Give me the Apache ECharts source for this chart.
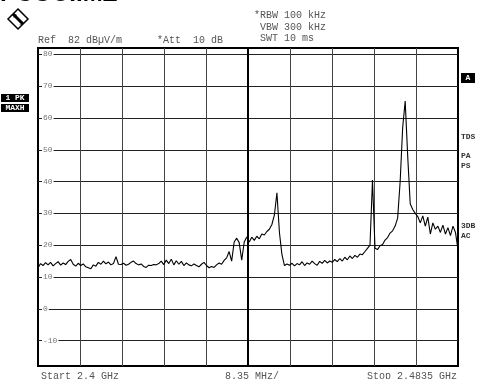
<!DOCTYPE html>
<html>
<head>
<meta charset="UTF-8">
<script src="https://cdn.jsdelivr.net/npm/echarts@6/dist/echarts.min.js"></script>
<style>
  body { margin: 0; padding: 0; background: #ffffff; }
  #chart { width: 480px; height: 379px; }
</style>
</head>
<body>
<div id="chart"></div>
<script>
// sweep settings (MHz, dBuV/m)
const startMHz = 2400;
const stopMHz = 2483.5;
const stepMHz = 0.5;
const refLevel = 82;
const bottomLevel = -18;

// graticule
const levelTicks = [80, 70, 60, 50, 40, 30, 20, 10, 0, -10];
const freqGrid = [2408.35, 2416.7, 2425.05, 2433.4, 2441.75, 2450.1, 2458.45, 2466.8, 2475.15];
const centreMHz = 2441.75;

// max-hold trace, one value per 0.5 MHz from 2400 MHz
const levels = [
  12.8, 14.2, 13.6, 14.5, 13.8, 14.6, 13.5, 14.2, 14.8, 13.7,
  14.4, 13.9, 14.9, 15.5, 14.0, 13.4, 14.3, 13.6, 14.1, 13.2,
  12.9, 12.6, 13.8, 13.4, 14.6, 14.0, 15.0, 14.1, 14.7, 13.8,
  14.2, 16.4, 14.0, 13.9, 14.3, 13.7, 14.0, 14.6, 15.0, 14.2,
  13.8, 14.1, 13.3, 13.0, 13.7, 13.6, 13.9, 13.8, 14.2, 15.0,
  13.9, 15.3, 14.2, 15.6, 13.8, 15.1, 14.0, 14.9, 13.6, 14.4,
  13.8, 13.5, 14.1, 13.6, 13.2, 14.0, 14.6, 13.6, 12.9, 13.3,
  13.0, 13.8, 14.4, 14.0, 15.2, 16.0, 18.0, 15.0, 21.0, 22.2,
  20.8, 15.3, 21.0, 22.6, 21.0, 22.5, 21.5, 22.8, 22.0, 23.5,
  23.2, 24.3, 25.0, 26.5, 29.5, 36.5, 24.0, 17.0, 13.6, 14.1,
  13.7, 14.3, 13.5, 14.2, 13.8, 14.8, 13.6, 14.4, 14.0, 15.0,
  14.2, 13.7, 14.9, 14.3, 15.2, 14.4, 15.0, 14.6, 15.5, 14.8,
  15.8, 15.0, 16.2, 15.4, 16.6, 15.8, 16.8, 16.2, 17.2, 17.0,
  18.0, 19.0, 20.0, 40.5, 19.0, 18.6, 19.8, 20.2, 21.6, 22.4,
  23.8, 24.5, 26.0, 28.5, 40.0, 57.0, 65.3, 48.0, 33.0, 31.2,
  30.0, 29.0, 27.0, 29.2, 26.0, 28.8, 23.5, 27.0, 25.0, 26.0,
  24.0, 26.3, 23.5, 25.5, 23.0, 26.0, 24.0, 18.5
];

const trace = levels.map((v, i) => [startMHz + i * stepMHz, v]);

const mono = '"Liberation Mono", "DejaVu Sans Mono", monospace';

function txt(x, y, text, opts) {
  opts = opts || {};
  return {
    type: 'text', x: x, y: y, silent: true, z: 20,
    style: {
      text: text,
      font: opts.font || ('10px ' + mono),
      fill: opts.fill || '#555',
      align: opts.align || 'left',
      verticalAlign: 'middle'
    }
  };
}

function tag(x, y, w, h, text) {
  return {
    type: 'group', x: x, y: y, z: 20, silent: true,
    children: [
      { type: 'rect', shape: { x: 0, y: 0, width: w, height: h }, style: { fill: '#000' } },
      { type: 'text', x: w / 2, y: h / 2, style: { text: text, font: 'bold 8px ' + mono, fill: '#fff', align: 'center', verticalAlign: 'middle' } }
    ]
  };
}

const chart = echarts.init(document.getElementById('chart'));

const option = {
  animation: false,
  backgroundColor: '#ffffff',
  grid: {
    left: 38, top: 48, width: 420, height: 318,
    show: true, borderColor: '#000', borderWidth: 2, backgroundColor: 'transparent'
  },
  xAxis: {
    type: 'value', min: startMHz, max: stopMHz,
    axisLine: { show: false }, axisTick: { show: false },
    axisLabel: { show: false }, splitLine: { show: false }
  },
  yAxis: {
    type: 'value', min: bottomLevel, max: refLevel, z: 10,
    axisLine: { show: false }, axisTick: { show: false },
    splitLine: { show: false },
    axisLabel: {
      inside: true, customValues: levelTicks, margin: 4,
      fontSize: 8, fontFamily: mono, color: '#777',
      backgroundColor: '#fff', padding: [0, 1]
    }
  },
  series: [{
    type: 'line',
    data: trace,
    showSymbol: false,
    lineStyle: { color: '#000', width: 1.1 },
    z: 5,
    markLine: {
      silent: true,
      symbol: ['none', 'none'],
      label: { show: false },
      lineStyle: { color: '#222', width: 1, type: 'solid' },
      data: levelTicks.map(v => ({ yAxis: v }))
        .concat(freqGrid.map(f => ({
          xAxis: f,
          lineStyle: { color: f === centreMHz ? '#000' : '#444', width: f === centreMHz ? 2 : 1, type: 'solid' }
        })))
    }
  }],
  graphic: [
    // page heading, cut off by the top edge
    txt(0, -6, 'PCOUIIMZ', { font: 'bold 24px "Liberation Sans", sans-serif', fill: '#000' }),
    // logo
    {
      type: 'group', x: 18, y: 19, z: 20, silent: true,
      children: [
        { type: 'polygon', shape: { points: [[0, -10], [10, 0], [0, 10], [-10, 0]] }, style: { fill: '#fff', stroke: '#000', lineWidth: 1.5 } },
        { type: 'line', shape: { x1: -5, y1: -5, x2: 5, y2: 5 }, style: { stroke: '#000', lineWidth: 3 } },
        { type: 'text', x: -3, y: -3, style: { text: 'R', font: '6px ' + mono, fill: '#000', align: 'center', verticalAlign: 'middle' } },
        { type: 'text', x: 3, y: 4, style: { text: 'S', font: '6px ' + mono, fill: '#000', align: 'center', verticalAlign: 'middle' } }
      ]
    },
    txt(38, 40, 'Ref  82 dB\u00b5V/m'),
    txt(157, 40, '*Att  10 dB'),
    txt(254, 15, '*RBW 100 kHz'),
    txt(260, 27, 'VBW 300 kHz'),
    txt(260, 38, 'SWT 10 ms'),
    txt(41, 376, 'Start 2.4 GHz'),
    txt(252, 376, '8.35 MHz/', { align: 'center' }),
    txt(457, 376, 'Stop 2.4835 GHz', { align: 'right' }),
    tag(1, 94, 28, 8, '1 PK'),
    tag(1, 104, 28, 8, 'MAXH'),
    tag(461, 73, 14, 10, 'A'),
    txt(461, 137, 'TDS', { font: 'bold 8px ' + mono, fill: '#333' }),
    txt(461, 156, 'PA', { font: 'bold 8px ' + mono, fill: '#333' }),
    txt(461, 166, 'PS', { font: 'bold 8px ' + mono, fill: '#333' }),
    txt(461, 226, '3DB', { font: 'bold 8px ' + mono, fill: '#333' }),
    txt(461, 236, 'AC', { font: 'bold 8px ' + mono, fill: '#333' })
  ]
};

chart.setOption(option);
</script>
</body>
</html>
